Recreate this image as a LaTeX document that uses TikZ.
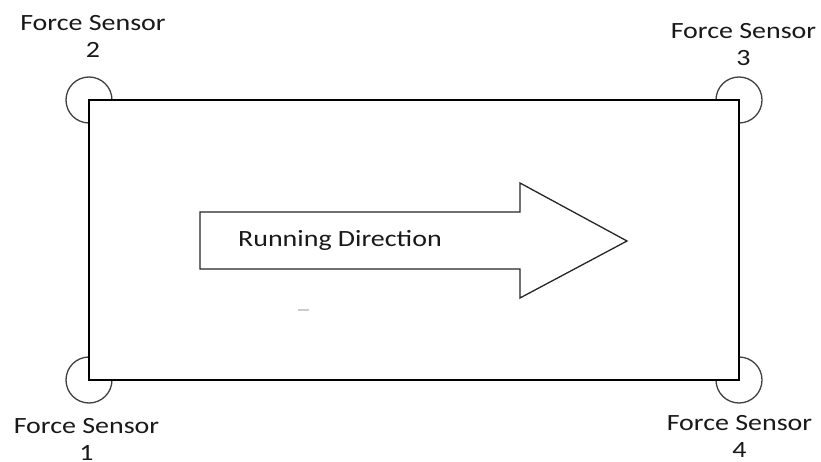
\documentclass[tikz,border=0pt]{standalone}
\usepackage{fontspec}
\newfontfamily\lbl[FakeStretch=1.2]{Carlito}
\begin{document}
\begin{tikzpicture}[x=1pt,y=-1pt,
  sensor/.style={draw=black!75,line width=1.3pt,fill=white},
  plate/.style={draw=black,line width=1.5pt,fill=white},
  bigarrow/.style={draw=black!85,line width=1.3pt,fill=white,line join=miter},
  caption/.style={font=\lbl\fontsize{23.3}{27}\selectfont,text=black!90,align=center,inner sep=0pt,anchor=base}]
  \useasboundingbox[fill=white] (0,0) rectangle (821,462);

  % plate corners
  \coordinate (c2) at (89,100);
  \coordinate (c3) at (739,100);
  \coordinate (c1) at (89,380);
  \coordinate (c4) at (739,380);

  % force sensors under the corners
  \foreach \c in {c1,c2,c3,c4}
    \draw[sensor] (\c) circle[radius=23];

  % the plate
  \draw[plate] (c2) rectangle (c4);

  % running direction arrow
  \coordinate (a1) at (200,212);
  \coordinate (a2) at (520,212);
  \coordinate (a3) at (520,183);
  \coordinate (tip) at (627,241);
  \coordinate (a5) at (520,298);
  \coordinate (a6) at (520,269);
  \coordinate (a7) at (200,269);
  \draw[bigarrow] (a1) -- (a2) -- (a3) -- (tip) -- (a5) -- (a6) -- (a7) -- cycle;
  \node[caption,anchor=base west] (dir) at (238,247) {Running Direction};

  % small stray mark below the arrow
  \coordinate (m1) at (298,310);
  \coordinate (m2) at (309,310);
  \draw[black!20,line width=1.5pt] (m1) -- (m2);

  % sensor labels (anchored at the baseline of the number line)
  \node[caption] (s2) at (93,58) {Force Sensor\\2};
  \node[caption] (s3) at (743.5,66) {Force Sensor\\3};
  \node[caption] (s1) at (86.5,460) {Force Sensor\\1};
  \node[caption] (s4) at (739.5,457) {Force Sensor\\4};
\end{tikzpicture}
\end{document}
